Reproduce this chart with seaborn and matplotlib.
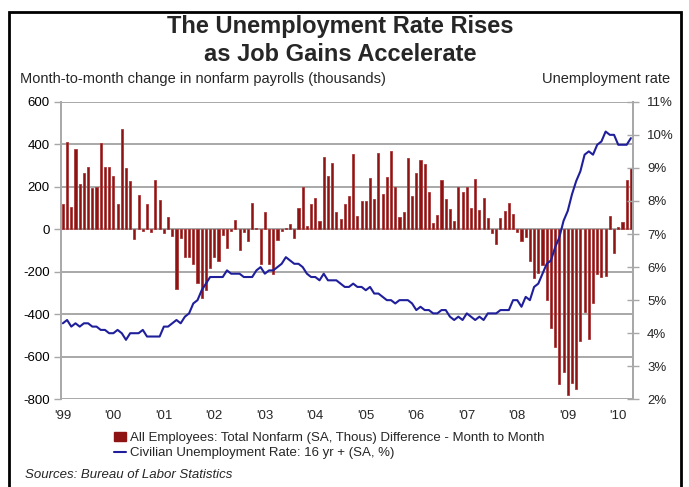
import numpy as np
import pandas as pd
import matplotlib
matplotlib.use("Agg")
import matplotlib.pyplot as plt
from matplotlib.patches import Patch, Rectangle
from matplotlib.lines import Line2D
from matplotlib.ticker import FuncFormatter
import seaborn as sns

# Monthly change in nonfarm payrolls (thousands), Jan 1999 - Apr 2010
payrolls_1999 = [120, 410, 103, 376, 211, 266, 291, 194, 200, 407, 294, 294]
payrolls_2000 = [249, 119, 470, 287, 225, -47, 161, -8, 120, -12, 232, 136]
payrolls_2001 = [-19, 58, -31, -283, -42, -130, -130, -164, -252, -321, -287, -182]
payrolls_2002 = [-130, -149, -28, -86, -6, 42, -99, -13, -55, 122, 8, -164]
payrolls_2003 = [80, -165, -210, -50, -10, 5, 23, -42, 102, 200, 16, 120]
payrolls_2004 = [146, 41, 338, 250, 310, 80, 47, 117, 157, 352, 63, 131]
payrolls_2005 = [135, 243, 141, 360, 164, 247, 368, 197, 60, 80, 334, 158]
payrolls_2006 = [263, 326, 305, 174, 30, 69, 232, 141, 97, 41, 200, 177]
payrolls_2007 = [197, 102, 238, 91, 146, 55, -19, -70, 52, 86, 125, 70]
payrolls_2008 = [-13, -53, -34, -150, -230, -207, -170, -332, -462, -554, -728, -673]
payrolls_2009 = [-778, -723, -749, -526, -388, -517, -345, -210, -224, -222, 63, -110]
payrolls_2010 = [9, 36, 230, 290]

# Civilian unemployment rate (%), same months
unemp_1999 = [4.3, 4.4, 4.2, 4.3, 4.2, 4.3, 4.3, 4.2, 4.2, 4.1, 4.1, 4.0]
unemp_2000 = [4.0, 4.1, 4.0, 3.8, 4.0, 4.0, 4.0, 4.1, 3.9, 3.9, 3.9, 3.9]
unemp_2001 = [4.2, 4.2, 4.3, 4.4, 4.3, 4.5, 4.6, 4.9, 5.0, 5.3, 5.5, 5.7]
unemp_2002 = [5.7, 5.7, 5.7, 5.9, 5.8, 5.8, 5.8, 5.7, 5.7, 5.7, 5.9, 6.0]
unemp_2003 = [5.8, 5.9, 5.9, 6.0, 6.1, 6.3, 6.2, 6.1, 6.1, 6.0, 5.8, 5.7]
unemp_2004 = [5.7, 5.6, 5.8, 5.6, 5.6, 5.6, 5.5, 5.4, 5.4, 5.5, 5.4, 5.4]
unemp_2005 = [5.3, 5.4, 5.2, 5.2, 5.1, 5.0, 5.0, 4.9, 5.0, 5.0, 5.0, 4.9]
unemp_2006 = [4.7, 4.8, 4.7, 4.7, 4.6, 4.6, 4.7, 4.7, 4.5, 4.4, 4.5, 4.4]
unemp_2007 = [4.6, 4.5, 4.4, 4.5, 4.4, 4.6, 4.6, 4.6, 4.7, 4.7, 4.7, 5.0]
unemp_2008 = [5.0, 4.8, 5.1, 5.0, 5.4, 5.5, 5.8, 6.1, 6.2, 6.6, 6.9, 7.4]
unemp_2009 = [7.7, 8.2, 8.6, 8.9, 9.4, 9.5, 9.4, 9.7, 9.8, 10.1, 10.0, 10.0]
unemp_2010 = [9.7, 9.7, 9.7, 9.9]

year_labels = ["'99", "'00", "'01", "'02", "'03", "'04", "'05", "'06", "'07", "'08", "'09", "'10"]

payrolls = (payrolls_1999 + payrolls_2000 + payrolls_2001 + payrolls_2002 + payrolls_2003
            + payrolls_2004 + payrolls_2005 + payrolls_2006 + payrolls_2007 + payrolls_2008
            + payrolls_2009 + payrolls_2010)
unemp = (unemp_1999 + unemp_2000 + unemp_2001 + unemp_2002 + unemp_2003 + unemp_2004
         + unemp_2005 + unemp_2006 + unemp_2007 + unemp_2008 + unemp_2009 + unemp_2010)

df = pd.DataFrame({"month": np.arange(len(payrolls)), "payrolls": payrolls, "unemp": unemp})

BAR_COLOR = "#8e1414"
BAR_EDGE = "#a83a3a"
LINE_COLOR = "#1f1f9c"
GRID_COLOR = "#a8a8a8"

sns.set_style("white")
plt.rcParams["font.family"] = ["Liberation Sans", "DejaVu Sans"]
plt.rcParams["axes.unicode_minus"] = False

fig = plt.figure(figsize=(6.89, 4.87), dpi=100)
ax = fig.add_axes([0.0885, 0.180, 0.8305, 0.611])

sns.barplot(data=df, x="month", y="payrolls", native_scale=True, color=BAR_COLOR,
            saturation=1, width=0.5, errorbar=None, ax=ax, zorder=3,
            edgecolor=BAR_EDGE, linewidth=0.6)

ax.set_xlim(-0.45, len(payrolls) - 0.45)
ax.set_ylim(-800, 600)
ax.set_yticks(np.arange(-800, 601, 200))
ax.yaxis.grid(True, color=GRID_COLOR, lw=1.4, zorder=0)
ax.set_axisbelow(True)
ax.set_xlabel("")
ax.set_ylabel("")
ax.tick_params(axis="y", labelsize=9.5, length=5, width=1, color=GRID_COLOR,
               direction="out", pad=3, labelcolor="black")

# quarterly ticks along the zero line
ax.spines["bottom"].set_position(("data", 0))
ax.spines["bottom"].set_color(GRID_COLOR)
ax.spines["bottom"].set_linewidth(1.4)
ax.set_xticks(np.arange(0, len(payrolls), 3))
ax.set_xticklabels([])
ax.tick_params(axis="x", length=3, width=1, color=GRID_COLOR, direction="out")
for side in ["left", "right", "top"]:
    ax.spines[side].set_color(GRID_COLOR)
    ax.spines[side].set_linewidth(1.4)
ax.spines["top"].set_visible(False)

# year labels below the plot area
sec = ax.secondary_xaxis(location=0)
sec.set_xticks(np.arange(0, len(payrolls), 12))
sec.set_xticklabels(year_labels)
sec.tick_params(length=0, labelsize=9.5, pad=8)
sec.spines["bottom"].set_visible(False)

ax2 = ax.twinx()
sns.lineplot(data=df, x="month", y="unemp", color=LINE_COLOR, lw=1.5, ax=ax2, zorder=4)
ax2.set_ylim(2, 11)
ax2.set_yticks(np.arange(2, 12, 1))
ax2.yaxis.set_major_formatter(FuncFormatter(lambda v, p: f"{v:.0f}%"))
ax2.set_ylabel("")
ax2.set_xlabel("")
ax2.tick_params(axis="y", labelsize=9.5, length=8, width=1, color=GRID_COLOR,
                direction="inout", pad=6)
for side in ["left", "right", "top", "bottom"]:
    ax2.spines[side].set_visible(False)
ax2.spines["right"].set_visible(True)
ax2.spines["right"].set_color(GRID_COLOR)
ax2.spines["right"].set_linewidth(1.4)

# titles
fig.text(0.494, 0.946, "The Unemployment Rate Rises", ha="center", va="center",
         fontsize=17, fontweight="bold")
fig.text(0.494, 0.889, "as Job Gains Accelerate", ha="center", va="center",
         fontsize=17, fontweight="bold")
fig.text(0.029, 0.838, "Month-to-month change in nonfarm payrolls (thousands)",
         ha="left", va="center", fontsize=10.5)
fig.text(0.973, 0.838, "Unemployment rate", ha="right", va="center", fontsize=10.5)

handles = [Patch(facecolor=BAR_COLOR, edgecolor=BAR_COLOR),
           Line2D([0], [0], color=LINE_COLOR, lw=1.5)]
labels = ["All Employees: Total Nonfarm (SA, Thous) Difference - Month to Month",
          "Civilian Unemployment Rate: 16 yr + (SA, %)"]
fig.legend(handles, labels, loc="upper left", bbox_to_anchor=(0.166, 0.113),
           frameon=False, fontsize=9.5, handlelength=0.9, handleheight=0.6,
           handletextpad=0.3, labelspacing=0.25, borderpad=0, borderaxespad=0)

fig.text(0.036, 0.024, "Sources: Bureau of Labor Statistics", ha="left", va="center",
         fontsize=9.5, style="italic")

fig.patches.append(Rectangle((9 / 689, -0.05), 672 / 689, 1.05 - 12 / 487,
                             transform=fig.transFigure, fill=False,
                             edgecolor="black", lw=2))

fig.savefig("out.png", dpi=100)
